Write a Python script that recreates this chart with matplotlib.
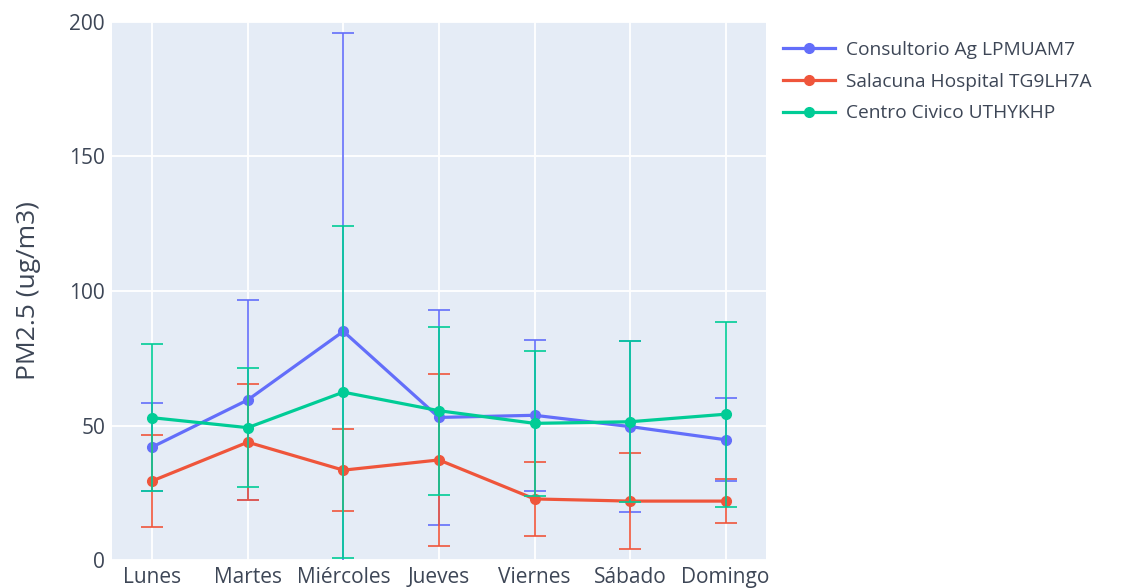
import matplotlib.pyplot as plt
from matplotlib.lines import Line2D

plt.rcParams['font.family'] = ['Open Sans', 'DejaVu Sans']

dias = ['Lunes', 'Martes', 'Miércoles', 'Jueves', 'Viernes', 'Sábado', 'Domingo']

# promedio diario y desviación por estación
consultorio = [42.0, 59.5, 85.0, 53.0, 53.8, 49.6, 44.7]
consultorio_std = [16.5, 37.2, 110.8, 40.0, 28.0, 31.7, 15.4]

salacuna = [29.4, 43.8, 33.4, 37.2, 22.7, 21.9, 21.9]
salacuna_std = [17.0, 21.5, 15.2, 32.0, 13.9, 17.8, 8.2]

centro = [52.9, 49.2, 62.4, 55.5, 50.8, 51.4, 54.2]
centro_std = [27.3, 22.0, 61.8, 31.2, 27.0, 29.9, 34.4]

series = [
    ('Consultorio Ag LPMUAM7', consultorio, consultorio_std, '#636EFA'),
    ('Salacuna Hospital TG9LH7A', salacuna, salacuna_std, '#EF553B'),
    ('Centro Civico UTHYKHP', centro, centro_std, '#00CC96'),
]

texto = '#3d4656'

fig = plt.figure(figsize=(11.33, 5.88), dpi=100)
ax = fig.add_axes([0.0989, 0.0476, 0.577, 0.915])
ax.set_facecolor('#E5ECF6')

x = list(range(len(dias)))
handles = []
for i, (nombre, vals, err, color) in enumerate(series):
    ax.errorbar(x, vals, yerr=err, color=color, ecolor=color, elinewidth=1.2,
                capsize=8, capthick=1.2, lw=2.3, marker='o', markersize=7,
                zorder=3 + i)
    handles.append(Line2D([], [], color=color, lw=2.3, marker='o',
                          markersize=7, label=nombre))

ax.set_ylim(0, 200)
ax.set_xlim(-0.42, 6.42)
ax.set_yticks([0, 50, 100, 150, 200])
ax.set_xticks(x)
ax.set_xticklabels(dias)
ax.grid(True, color='white', linewidth=1.3)
ax.set_axisbelow(True)
for s in ax.spines.values():
    s.set_visible(False)
ax.tick_params(length=0, labelsize=15, colors=texto, pad=5)
ax.set_ylabel('PM2.5 (ug/m3)', fontsize=19, color=texto, labelpad=20)

ax.legend(handles=handles, loc='upper left', bbox_to_anchor=(1.0, 0.997),
          frameon=False, fontsize=13.8, handlelength=2.7, handletextpad=0.6,
          labelspacing=0.72, labelcolor=texto)

fig.savefig('out.png', dpi=100)
